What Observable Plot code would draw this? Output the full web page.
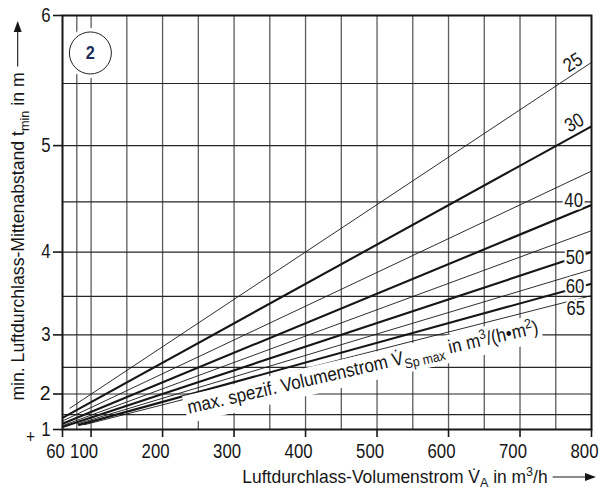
<!DOCTYPE html>
<html><head><meta charset="utf-8">
<script src="https://cdn.jsdelivr.net/npm/d3@7"></script>
<script src="https://cdn.jsdelivr.net/npm/@observablehq/plot@0.6"></script>
<style>
body{margin:0;background:#fff}
#chart svg{display:block;background:#fff}
</style></head><body><div id="chart"></div>
<script>
// ---- data ----
const flowRates = [25, 30, 35, 40, 45, 50, 55, 60, 65];            // V̇Sp max in m³/(h·m²)
const startV    = [70, 60, 60, 60, 60, 60, 80, 82, 90];             // m³/h
const startT    = [1.67, 1.41, 1.31, 1.22, 1.15, 1.10, 1.21, 1.17, 1.18]; // m
const endV      = [800, 800, 800, 800, 800, 800, 800, 800, 800];
const endT      = [5.66, 5.16, 4.78, 4.47, 4.22, 4.00, 3.81, 3.65, 3.51];

const xTicks = [60, 100, 200, 300, 400, 500, 600, 700, 800];
const xGrid  = [80, 100, 150, 200, 250, 300, 350, 400, 450, 500, 550, 600, 650, 700, 750];
const yTicks = [1, 2, 3, 4, 5, 6];
const yGrid  = [1.5, 2, 2.5, 3, 3.5, 4, 4.5, 5, 5.5];

const lineLabels = ["25", "30", "40", "50", "60", "65"];
const labelV     = [774, 776, 775, 777, 777, 778];
const labelT     = [5.66, 5.19, 4.51, 3.94, 3.61, 3.35];

const annotationText = "max. spezif. Volumenstrom V̇Sp max in m3/(h•m2)";
const annotationV = [480];
const annotationT = [2.5];

const badgeText = ["2"];
const badgeV = [99];
const badgeT = [5.73];

const xLabel = "Luftdurchlass-Volumenstrom V̇A in m3/h";
const yLabel = "min. Luftdurchlass-Mittenabstand tmin in m";

// ---- build tables ----
const series = flowRates.map((q, i) => ({q, v0: startV[i], t0: startT[i], v1: endV[i], t1: endT[i]}));
const labels = lineLabels.map((s, i) => ({s, v: labelV[i], t: labelT[i]}));
const annotation = [{s: annotationText, v: annotationV[0], t: annotationT[0]}];
const badge = badgeText.map((s, i) => ({s, v: badgeV[i], t: badgeT[i]}));

const FONT = "'Liberation Sans',Arial,Helvetica,sans-serif";
const INK = "#161616";
const X_TITLE_DY = 48;

const plot = Plot.plot({
  width: 607, height: 488,
  marginLeft: 62, marginRight: 16, marginTop: 15, marginBottom: 59,
  style: {fontFamily: FONT, fontSize: "19px", color: INK, background: "#fff"},
  x: {type: "linear", domain: [60, 800]},
  y: {type: "pow", exponent: 2, domain: [1, 6]},
  marks: [
    Plot.ruleX(xGrid, {y1: 1, y2: 6, stroke: "#5c5c5c", strokeWidth: 1.3}),
    Plot.ruleY(yGrid, {x1: 60, x2: 800, stroke: "#262626", strokeWidth: 1.2}),
    Plot.link(series, {x1: "v0", y1: "t0", x2: "v1", y2: "t1", stroke: INK,
      strokeWidth: d => d.q % 10 === 0 ? 2.1 : 0.9}),
    Plot.axisX(xTicks, {tickSize: 8, tickFormat: () => "", label: null, strokeWidth: 1.6, stroke: INK}),
    Plot.axisX(xTicks, {tickSize: 0, tickPadding: 15, dx: -7, fontSize: 19.5, label: null, fill: INK, tickFormat: d => String(d)}),
    Plot.axisY(yTicks, {tickSize: 9, tickPadding: 3, fontSize: 19.5, label: null, strokeWidth: 1.6, stroke: INK, fill: INK, tickFormat: d => String(d)}),
    Plot.frame({stroke: INK, strokeWidth: 2}),
    Plot.text(labels, {x: "v", y: "t", text: "s", fontSize: 19.5, fill: INK,
      rotate: d => d.s === "25" ? -33 : d.s === "30" ? -29 : 0,
      stroke: "white", strokeWidth: 5}),
    Plot.text(annotation, {x: "v", y: "t", text: "s", fontSize: 19, fill: INK, rotate: -13}),
    Plot.dot(badge, {x: "v", y: "t", r: 25, fill: "white", stroke: null}),
    Plot.dot(badge, {x: "v", y: "t", r: 21, fill: "white", stroke: "#222", strokeWidth: 1}),
    Plot.text(badge, {x: "v", y: "t", text: "s", fontSize: 19, fontWeight: "bold", fill: "#1c2f5a"}),
    Plot.text(["+"], {x: 60, y: 1, dx: -32, dy: 8, fontSize: 18, fill: INK}),
    Plot.text([xLabel], {frameAnchor: "bottom", textAnchor: "middle", lineAnchor: "middle", dx: 68, dy: X_TITLE_DY, fontSize: 18, fill: INK}),
    Plot.text([yLabel], {frameAnchor: "left", textAnchor: "middle", lineAnchor: "middle", dx: -44.5, dy: 14, rotate: -90, fontSize: 18, fill: INK})
  ]
});
document.getElementById("chart").append(plot);
const svg = d3.select(plot);
const allText = () => Array.from(plot.querySelectorAll("text"));
const findText = s => allText().find(t => t.textContent === s);

// ---- rich text (sub/superscripts) ----
function setRich(el, parts, sub = 5) {
  const t = d3.select(el);
  t.text(null);
  let shift = 0;
  for (const [str, kind] of parts) {
    const target = kind === "sub" ? sub : kind === "sup" ? -7 : 0;
    const ts = t.append("tspan").text(str);
    if (target !== shift) ts.attr("dy", target - shift);
    if (kind !== "n") ts.attr("font-size", "0.72em");
    shift = target;
  }
}
const annEl = findText(annotationText);
const xEl = findText(xLabel);
const yEl = findText(yLabel);
const badgeEl = findText("2");
if (annEl) setRich(annEl, [["max. spezif. Volumenstrom V̇", "n"], ["Sp max", "sub"], [" in m", "n"], ["3", "sup"], ["/(h•m", "n"], ["2", "sup"], [")", "n"]]);
if (xEl) setRich(xEl, [["Luftdurchlass-Volumenstrom V̇", "n"], ["A", "sub"], [" in m", "n"], ["3", "sup"], ["/h", "n"]], 3.5);
if (yEl) setRich(yEl, [["min. Luftdurchlass-Mittenabstand t", "n"], ["min", "sub"], [" in m", "n"]]);

// condensed face (the reference uses a narrow grotesque): squeeze glyphs along the baseline
function squeeze(el, k) {
  const xa = el.getAttribute("x");
  let pre = "";
  if (xa !== null && /^-?[\d.]+$/.test(xa.trim())) { pre = ` translate(${+xa},0)`; el.removeAttribute("x"); }
  const tr = el.getAttribute("transform") || "";
  el.setAttribute("transform", `${tr}${pre} scale(${k},1)`);
}
for (const el of allText()) {
  if (el === badgeEl) continue;
  squeeze(el, el === xEl ? 0.97 : el === yEl ? 0.98 : el === annEl ? 0.9 : 0.86);
}

// white box behind the rotated annotation
if (annEl) {
  const bb = annEl.getBBox();
  const rect = document.createElementNS("http://www.w3.org/2000/svg", "rect");
  rect.setAttribute("x", bb.x - 3); rect.setAttribute("y", bb.y + 1);
  rect.setAttribute("width", bb.width + 6); rect.setAttribute("height", bb.height);
  rect.setAttribute("fill", "white");
  if (annEl.getAttribute("transform")) rect.setAttribute("transform", annEl.getAttribute("transform"));
  annEl.parentNode.insertBefore(rect, annEl);
}

// arrows after axis titles
const sr = plot.getBoundingClientRect();
function arrow(x1, y1, x2, y2) {
  const g = svg.append("g").attr("fill", INK).attr("stroke", INK);
  const a = Math.atan2(y2 - y1, x2 - x1), L = 11, W = 4;
  const bx = x2 - L * Math.cos(a), by = y2 - L * Math.sin(a);
  g.append("line").attr("x1", x1).attr("y1", y1).attr("x2", bx).attr("y2", by).attr("stroke-width", 1.1);
  g.append("path").attr("stroke", "none").attr("d",
    `M${x2},${y2}L${bx + W * Math.sin(a)},${by - W * Math.cos(a)}L${bx - W * Math.sin(a)},${by + W * Math.cos(a)}Z`);
}
if (xEl) {
  const xr = xEl.getBoundingClientRect();
  const yy = 488 - 59 + X_TITLE_DY;
  arrow(xr.right - sr.left + 5, yy, 596, yy);
}
if (yEl) {
  const yr = yEl.getBoundingClientRect();
  const xx = (yr.left + yr.right) / 2 - sr.left - 2;
  arrow(xx, yr.top - sr.top - 6, xx, 21);
}
</script></body></html>
